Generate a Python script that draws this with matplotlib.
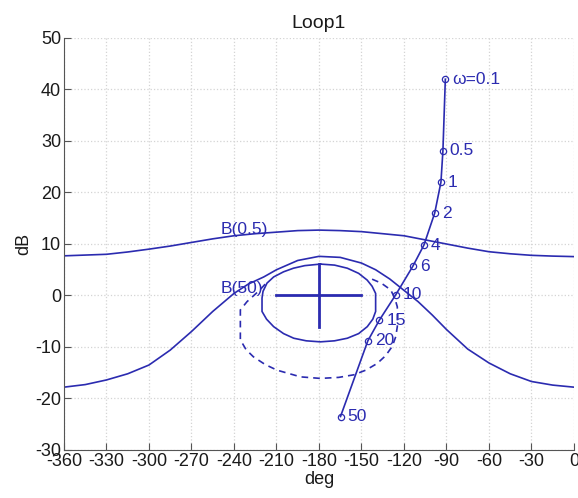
import matplotlib
matplotlib.use("Agg")
import matplotlib.pyplot as plt
import numpy as np

# open loop L(jw) on the Nichols plane
loop_w = ["ω=0.1", "0.5", "1", "2", "4", "6", "10", "15", "20", "50"]
loop_deg = [-90.8, -92.5, -93.9, -98.3, -105.9, -113.7, -125.9, -137.4, -145.5, -164.8]
loop_db = [42.0, 28.1, 22.0, 16.0, 9.8, 5.7, 0.1, -4.8, -8.8, -23.5]

# bound at w = 0.5
b05_deg = [-360, -345, -330, -315, -300, -285, -270, -255, -240, -225, -210,
           -195, -180, -165, -150, -135, -120, -105, -90, -75, -60, -45, -30, -15, 0]
b05_db = [7.7, 7.85, 8.0, 8.45, 9.0, 9.6, 10.3, 11.0, 11.6, 12.0, 12.3,
          12.6, 12.7, 12.6, 12.4, 12.0, 11.6, 10.8, 10.0, 9.2, 8.5, 8.1, 7.8, 7.65, 7.55]

# bound at w = 50 (outer part)
b50_deg = [-360, -345, -330, -315, -300, -285, -270, -255, -240, -230, -219,
           -210, -195, -180, -165, -150, -140, -130, -120, -110, -100, -90,
           -75, -60, -45, -30, -15, 0]
b50_db = [-17.8, -17.3, -16.4, -15.2, -13.5, -10.6, -7.0, -3.1, 0.4, 2.2, 3.6,
          5.0, 6.8, 7.6, 7.4, 6.3, 5.0, 3.2, 1.0, -1.2, -3.8, -6.6,
          -10.4, -13.1, -15.2, -16.7, -17.4, -17.8]

# closed inner bound
inner_deg = [-179, -190, -198, -205, -212, -216.7, -219.5, -220.2, -220.2,
             -217, -212, -205, -197.8, -189, -179, -169, -160, -152, -145.9,
             -142, -140, -140, -142.5, -146, -152, -160, -169, -179]
inner_db = [6.1, 5.8, 5.3, 4.6, 3.6, 2.4, 0.8, -0.5, -3.1,
            -4.6, -6.05, -7.4, -8.3, -8.8, -9.0, -8.8, -8.3, -7.4, -6.05,
            -4.6, -3.1, 0.4, 1.8, 3.0, 4.3, 5.3, 5.9, 6.1]

# dashed bound
dash_deg = [-218, -222, -230.8, -235.5, -235.5, -231.5, -226.3, -218, -209.6,
            -193, -179, -166, -155.4, -147, -138.9, -133, -128.3, -125.8,
            -124.7, -124.7, -126.5, -129.4, -136, -143.6]
dash_db = [2.2, 1.0, -1.2, -2.8, -8.6, -10.5, -11.9, -13.4, -14.5,
           -15.8, -16.1, -15.9, -15.4, -14.5, -13.2, -11.7, -9.9, -8.0,
           -6.05, -2.2, -0.5, 1.1, 2.4, 3.3]

# critical point marker
cross_h_deg = [-210, -150]
cross_h_db = [0, 0]
cross_v_deg = [-180, -180]
cross_v_db = [6.1, -6.1]

xticks = np.arange(-360, 1, 30)
yticks = np.arange(-30, 51, 10)

blue = "#2b2bb0"
plt.rcParams["font.family"] = ["Liberation Sans", "DejaVu Sans"]
plt.rcParams["axes.unicode_minus"] = False

fig = plt.figure(figsize=(5.78, 4.98), dpi=100)
ax = fig.add_axes([0.1107, 0.0964, 0.8823, 0.8273])

ax.plot(b05_deg, b05_db, "-", color=blue, linewidth=1.2)
ax.plot(b50_deg, b50_db, "-", color=blue, linewidth=1.2)
ax.plot(inner_deg, inner_db, "-", color=blue, linewidth=1.2)
ax.plot(dash_deg, dash_db, "--", color=blue, linewidth=1.2, dashes=(4, 3))
ax.plot(cross_h_deg, cross_h_db, "-", color=blue, linewidth=2)
ax.plot(cross_v_deg, cross_v_db, "-", color=blue, linewidth=2)
ax.plot(loop_deg, loop_db, "-o", color=blue, linewidth=1.2,
        markersize=4.5, markerfacecolor="none", markeredgewidth=0.9)

for lab, xd, yd in zip(loop_w, loop_deg, loop_db):
    ax.annotate(lab, (xd, yd), xytext=(5, 0), textcoords="offset points",
                va="center", ha="left", fontsize=12.5, color=blue)

ax.text(-249.7, 12.9, "B(0.5)", fontsize=12.5, color=blue, va="center", ha="left")
ax.text(-249.7, 1.4, "B(50)", fontsize=12.5, color=blue, va="center", ha="left")

ax.set_xlim(-360, 0)
ax.set_ylim(-30, 50)
ax.set_xticks(xticks)
ax.set_yticks(yticks)
ax.grid(True, color="#d4d4d4", linestyle=":", linewidth=0.9)
ax.spines["top"].set_visible(False)
ax.spines["right"].set_visible(False)
ax.spines["left"].set_color("#555555")
ax.spines["bottom"].set_color("#555555")
ax.tick_params(direction="in", length=5, color="#555555", labelsize=13,
               labelcolor="#1a1a1a", pad=2)

ax.set_title("Loop1", fontsize=14, color="#1a1a1a", pad=7)
ax.set_xlabel("deg", fontsize=13, color="#1a1a1a", labelpad=1)
ax.set_ylabel("dB", fontsize=13, color="#1a1a1a", labelpad=2)

fig.savefig("out.png", dpi=100)
